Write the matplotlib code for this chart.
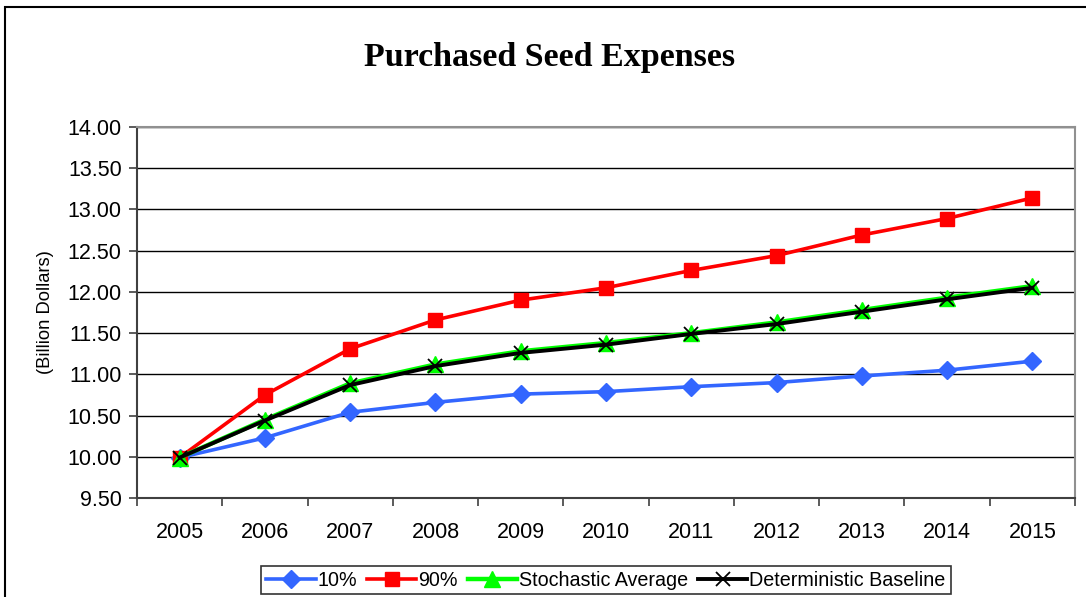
import matplotlib
matplotlib.use("Agg")
import matplotlib.pyplot as plt
from matplotlib.patches import Rectangle
import numpy as np

years = ["2005", "2006", "2007", "2008", "2009", "2010", "2011", "2012", "2013", "2014", "2015"]
p10 = [9.99, 10.23, 10.54, 10.66, 10.76, 10.79, 10.85, 10.90, 10.98, 11.05, 11.16]
p90 = [9.99, 10.75, 11.31, 11.66, 11.90, 12.05, 12.26, 12.44, 12.69, 12.89, 13.14]
stoch = [9.99, 10.45, 10.89, 11.12, 11.28, 11.38, 11.50, 11.63, 11.78, 11.93, 12.07]
determ = [9.99, 10.44, 10.87, 11.10, 11.26, 11.36, 11.49, 11.61, 11.76, 11.91, 12.05]
yticks = [9.5, 10.0, 10.5, 11.0, 11.5, 12.0, 12.5, 13.0, 13.5, 14.0]

plt.rcParams['font.family'] = ['Liberation Sans', 'DejaVu Sans']

W, H = 1086, 597
fig = plt.figure(figsize=(W / 100, H / 100), dpi=100)
fig.patch.set_facecolor("white")

# outer chart border (extends past right/bottom edges)
fig.patches.append(Rectangle((5 / W, -0.1), 1.2, 1 - 7 / H + 0.1, transform=fig.transFigure,
                             fill=False, edgecolor="black", linewidth=1.5, zorder=0))

ax = fig.add_axes([137 / W, 1 - 498 / H, (1075 - 137) / W, (498 - 127) / H])
x = np.arange(len(years))

ax.plot(x, p10, color="#3366FF", lw=2.6, marker="D", ms=9, mec="#3366FF", label="10%", zorder=3)
ax.plot(x, p90, color="#FF0000", lw=2.6, marker="s", ms=10, mec="#FF0000", label="90%", zorder=4)
ax.plot(x, stoch, color="#00FF00", lw=3.2, marker="^", ms=11, mec="#00FF00", label="Stochastic Average", zorder=5)
ax.plot(x, determ, color="black", lw=2.8, marker="x", ms=10, mew=1.3, label="Deterministic Baseline", zorder=6)

ax.set_xlim(-0.5, len(years) - 0.5)
ax.set_ylim(9.5, 14.0)
ax.set_yticks(yticks)
ax.set_yticklabels([f"{v:.2f}" for v in yticks], fontsize=15.5)
ax.yaxis.grid(True, color="black", lw=1)
ax.set_axisbelow(True)

ax.set_xticks(np.arange(-0.5, len(years), 1.0))
ax.set_xticklabels([])
ax.set_xticks(x, minor=True)
ax.set_xticklabels(years, minor=True, fontsize=15.5)
ax.tick_params(axis="x", which="major", length=6, width=1.2, color="#404040", direction="out")
ax.tick_params(axis="x", which="minor", length=0, pad=17)
ax.tick_params(axis="y", length=6, width=1.2, color="#404040", direction="out", pad=5)

for s in ["left", "bottom"]:
    ax.spines[s].set_color("#404040")
    ax.spines[s].set_linewidth(1.5)
for s in ["top", "right"]:
    ax.spines[s].set_color("#909090")
    ax.spines[s].set_linewidth(1.5)

ax.set_ylabel("(Billion Dollars)", fontsize=13.2, labelpad=10)

fig.text(550 / W, 1 - 65.7 / H, "Purchased Seed Expenses", ha="center", va="baseline",
         fontsize=24.5, fontweight="bold", family=["Liberation Serif", "DejaVu Serif"])

leg = fig.legend(loc="center", bbox_to_anchor=(606 / W, 1 - 580 / H), ncol=4, frameon=True,
                 fancybox=False, fontsize=14.2, handlelength=2.5, handletextpad=0.1,
                 columnspacing=0.5, borderpad=0.25, borderaxespad=0)
leg.get_frame().set_edgecolor("black")
leg.get_frame().set_linewidth(1.2)

fig.savefig("out.png", dpi=100)
